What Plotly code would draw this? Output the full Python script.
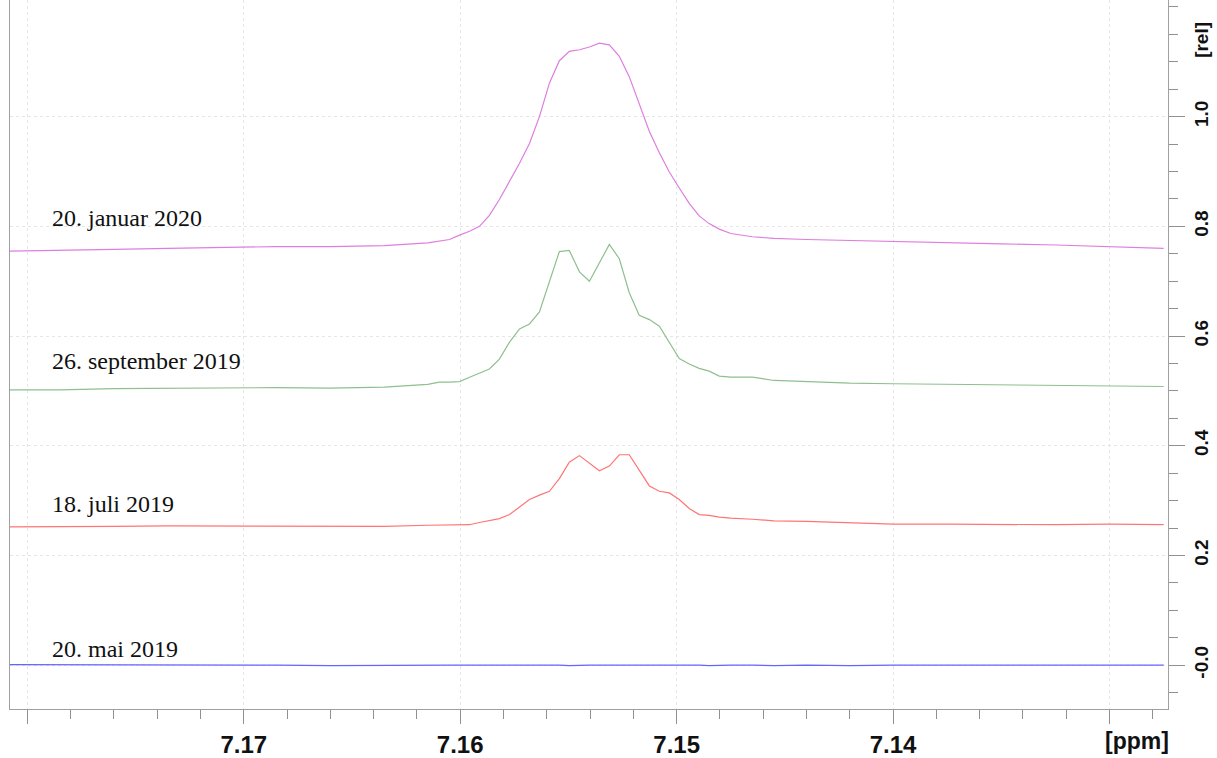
import plotly.graph_objects as go

# chemical shift grid (ppm)
ppm = [7.1808, 7.1785, 7.1760, 7.1735, 7.1710, 7.1685, 7.1660, 7.1635, 7.1615,
       7.16096, 7.16049, 7.16003, 7.15957, 7.15911, 7.15865, 7.15819, 7.15772, 7.15726, 7.15680,
       7.15634, 7.15588, 7.15542, 7.15496, 7.15449, 7.15403, 7.15357, 7.15311, 7.15265, 7.15219,
       7.15173, 7.15126, 7.15080, 7.15034, 7.14988, 7.14942, 7.14896, 7.14850, 7.14803,
       7.1475, 7.1465, 7.1455, 7.1440, 7.1420, 7.1400, 7.1375, 7.1350, 7.1325, 7.1300, 7.1275]

jan2020 = [0.755, 0.756, 0.758, 0.760, 0.762, 0.763, 0.763, 0.765, 0.770,
           0.773, 0.776, 0.784, 0.791, 0.800, 0.820, 0.849, 0.882, 0.915, 0.951,
           1.000, 1.061, 1.102, 1.119, 1.122, 1.127, 1.134, 1.131, 1.110, 1.073,
           1.025, 0.973, 0.934, 0.899, 0.870, 0.842, 0.819, 0.805, 0.795,
           0.787, 0.781, 0.778, 0.776, 0.774, 0.772, 0.770, 0.768, 0.766, 0.763, 0.760]

sep2019 = [0.502, 0.502, 0.504, 0.505, 0.506, 0.506, 0.505, 0.507, 0.512,
           0.516, 0.516, 0.517, 0.525, 0.533, 0.540, 0.558, 0.589, 0.613, 0.622,
           0.644, 0.698, 0.754, 0.756, 0.717, 0.700, 0.734, 0.767, 0.741, 0.679,
           0.638, 0.630, 0.618, 0.589, 0.559, 0.549, 0.541, 0.536, 0.527,
           0.525, 0.525, 0.519, 0.517, 0.514, 0.513, 0.512, 0.510, 0.510, 0.509, 0.508]

jul2019 = [0.252, 0.252, 0.253, 0.254, 0.254, 0.254, 0.253, 0.253, 0.255,
           0.255, 0.255, 0.255, 0.256, 0.260, 0.263, 0.267, 0.2745, 0.2885, 0.302,
           0.310, 0.317, 0.340, 0.370, 0.382, 0.3685, 0.3545, 0.363, 0.3836, 0.3836,
           0.355, 0.3267, 0.317, 0.314, 0.302, 0.2855, 0.2745, 0.273, 0.270,
           0.268, 0.266, 0.263, 0.262, 0.259, 0.257, 0.257, 0.256, 0.256, 0.257, 0.256]

mai2019 = [0.001, 0.001, 0.000, 0.001, 0.000, 0.000, -0.001, 0.000, 0.000,
           0.000, 0.000, 0.000, 0.000, 0.001, 0.000, 0.000, 0.000, 0.001, 0.000,
           0.000, 0.000, 0.000, -0.001, 0.000, 0.000, 0.000, 0.000, 0.000, 0.001,
           0.000, 0.000, 0.000, 0.000, 0.000, 0.000, 0.000, -0.001, 0.000,
           0.000, 0.000, -0.001, 0.000, -0.001, 0.000, 0.000, 0.000, 0.000, 0.000, 0.000]

series = [
    ("20. mai 2019", mai2019, "#6464ff", 0.030),
    ("18. juli 2019", jul2019, "#ff7474", 0.293),
    ("26. september 2019", sep2019, "#8fbf8f", 0.555),
    ("20. januar 2020", jan2020, "#de7ede", 0.815),
]

x_ticks = [7.18, 7.17, 7.16, 7.15, 7.14, 7.13]
x_ticktext = ["", "7.17", "7.16", "7.15", "7.14", ""]
y_ticks = [0.0, 0.2, 0.4, 0.6, 0.8, 1.0]
y_ticktext = ["-0.0", "0.2", "0.4", "0.6", "0.8", "1.0"]

fig = go.Figure()
for name, vals, color, label_y in series:
    fig.add_trace(go.Scatter(x=ppm, y=vals, mode="lines", name=name,
                             line=dict(color=color, width=1.2), showlegend=False))
    fig.add_annotation(x=7.17886, y=label_y, xref="x", yref="y", text=name,
                       showarrow=False, xanchor="left", yanchor="middle", xshift=-2,
                       font=dict(family="Liberation Serif", size=24, color="#111111"))

xfont = dict(family="Liberation Sans", size=24, color="#111111", weight="bold")
yfont = dict(family="Liberation Sans", size=19, color="#111111", weight="bold")

fig.update_layout(
    width=1217, height=758,
    margin=dict(l=10, r=49, t=0, b=47),
    paper_bgcolor="white", plot_bgcolor="white",
    xaxis=dict(range=[7.1808, 7.1273], tickmode="array", tickvals=x_ticks, ticktext=x_ticktext,
               ticks="outside", ticklen=14, tickcolor="#909090", tickwidth=1,
               showline=True, linecolor="#a0a0a0", linewidth=1,
               showgrid=True, gridcolor="#e6e6e6", griddash="dot", gridwidth=1,
               zeroline=False, tickfont=xfont,
               minor=dict(tickmode="linear", tick0=7.14, dtick=0.002, ticks="outside",
                          ticklen=9, tickcolor="#909090", showgrid=False)),
    yaxis=dict(range=[-0.08, 1.2127], side="right", tickmode="array", tickvals=y_ticks,
               ticktext=y_ticktext, tickangle=-90,
               ticks="outside", ticklen=16, tickcolor="#909090", tickwidth=1,
               showline=True, linecolor="#a0a0a0", linewidth=1, mirror=True,
               showgrid=True, gridcolor="#e6e6e6", griddash="dot", gridwidth=1,
               zeroline=False, tickfont=yfont,
               minor=dict(tickmode="linear", tick0=0, dtick=0.05, ticks="outside",
                          ticklen=9, tickcolor="#909090", showgrid=False)),
)

fig.add_annotation(x=1, y=0, xref="paper", yref="paper", yshift=-18, xshift=2, text="[ppm]",
                   showarrow=False, xanchor="right", yanchor="top", borderpad=0,
                   font=dict(family="Liberation Sans", size=23, color="#111111", weight="bold"))
fig.add_annotation(x=1, y=1.14, xref="paper", yref="y", xshift=34, text="[rel]",
                   showarrow=False, textangle=-90, xanchor="center", yanchor="middle",
                   font=yfont)

fig.write_html("out.html")
